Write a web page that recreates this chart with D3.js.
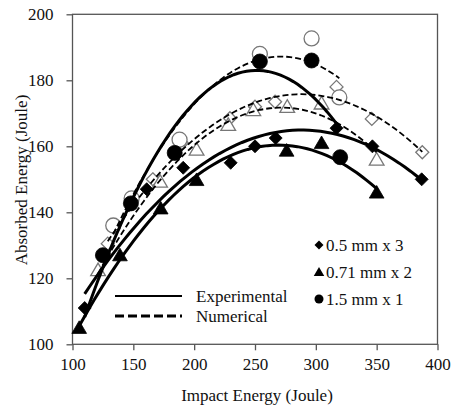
<!DOCTYPE html>
<html>
<head>
<meta charset="utf-8">
<script src="https://cdn.jsdelivr.net/npm/d3@7"></script>
<style>
  body { margin: 0; background: #fff; }
  svg text { font-family: "Liberation Serif", Tinos, "Times New Roman", "DejaVu Serif", serif; }
</style>
</head>
<body>
<svg id="chart"></svg>
<script>
// values (impact energy, absorbed energy)
let d05ExpX = [110, 161, 191, 230, 250, 267, 317, 346.5, 387];
let d05ExpY = [111, 147, 153.5, 155, 160, 162.5, 165.5, 160, 150];
let d071ExpX = [105.5, 139, 172.5, 202, 276, 304.7, 350];
let d071ExpY = [105, 127, 141.2, 149.8, 158.7, 161, 146];
let d15ExpX = [125, 148, 184, 254, 296.5, 320];
let d15ExpY = [127, 142.7, 158, 185.7, 186, 156.7];

let d05NumX = [129, 166, 190, 229.4, 250, 266.5, 317, 346, 387.5];
let d05NumY = [130.5, 150, 161, 168.5, 172, 173.5, 178, 168.3, 158.2];
let d071NumX = [121, 172, 202, 228, 248.6, 276.5, 304.7, 350];
let d071NumY = [122.5, 149.3, 159, 166.5, 171, 172, 173, 156];
let d15NumX = [133.5, 148.6, 188, 254, 296.5, 319.3];
let d15NumY = [136, 144.2, 162, 188, 192.7, 174.8];

// trendline ranges (1.5 mm experimental line is drawn back to 110)
let trendFrom = { d05Exp: 110, d071Exp: 105.5, d15Exp: 110, d05Num: 129, d071Num: 121, d15Num: 133.5 };

let xTicks = [100, 150, 200, 250, 300, 350, 400];
let yTicks = [100, 120, 140, 160, 180, 200];
let seriesNames = ["0.5 mm x 3", "0.71 mm x 2", "1.5 mm x 1"];
let lineNames = ["Experimental", "Numerical"];

let width = 463;
let height = 409;
let serif = '"Liberation Serif", Tinos, "Times New Roman", "DejaVu Serif", serif';
let zip = (xs, ys) => xs.map((x, i) => ({ x: x, y: ys[i] }));

let series = [
  { key: "d05Num", shape: "diamond", open: true, pts: zip(d05NumX, d05NumY) },
  { key: "d071Num", shape: "triangle", open: true, pts: zip(d071NumX, d071NumY) },
  { key: "d15Num", shape: "circle", open: true, pts: zip(d15NumX, d15NumY) },
  { key: "d05Exp", shape: "diamond", open: false, pts: zip(d05ExpX, d05ExpY) },
  { key: "d071Exp", shape: "triangle", open: false, pts: zip(d071ExpX, d071ExpY) },
  { key: "d15Exp", shape: "circle", open: false, pts: zip(d15ExpX, d15ExpY) }
];

let svg = d3.select('#chart').attr('width', width).attr('height', height);

let xScale = d3.scaleLinear().domain([100, 400]).range([72.5, 437.5]);
let yScale = d3.scaleLinear().domain([100, 200]).range([344.3, 14.3]);

// plot frame
svg.append('rect')
  .attr('x', xScale(100)).attr('y', yScale(200))
  .attr('width', xScale(400) - xScale(100))
  .attr('height', yScale(100) - yScale(200))
  .attr('fill', 'none')
  .attr('stroke', '#555')
  .attr('stroke-width', 1.3);

let xAxis = d3.axisBottom(xScale).tickValues(xTicks).tickSize(6).tickPadding(7.5);
let yAxis = d3.axisLeft(yScale).tickValues(yTicks).tickSize(6).tickPadding(13);

let gx = svg.append('g').attr('transform', 'translate(0,' + yScale(100) + ')').call(xAxis);
let gy = svg.append('g').attr('transform', 'translate(' + xScale(100) + ',0)').call(yAxis);
[gx, gy].forEach(g => {
  g.attr('font-family', serif).attr('font-size', 17);
  g.select('.domain').remove();
  g.selectAll('line').attr('stroke', '#555').attr('stroke-width', 1.3);
  g.selectAll('text').style('font-family', serif).attr('fill', '#111');
});

svg.append('text')
  .attr('x', 257).attr('y', 401)
  .attr('text-anchor', 'middle')
  .attr('font-size', 17).attr('fill', '#111')
  .text('Impact Energy (Joule)');
svg.append('text')
  .attr('transform', 'translate(27,180) rotate(-90)')
  .attr('text-anchor', 'middle')
  .attr('font-size', 17).attr('fill', '#111')
  .text('Absorbed Energy (Joule)');

// marker shapes
function markerPath(shape, s) {
  if (shape == 'diamond') {
    return 'M0,' + (-s) + 'L' + s + ',0L0,' + s + 'L' + (-s) + ',0Z';
  }
  if (shape == 'triangle') {
    return 'M0,' + (-s) + 'L' + (s * 1.05) + ',' + (s * 0.8) + 'L' + (-s * 1.05) + ',' + (s * 0.8) + 'Z';
  }
  let p = d3.path();
  p.arc(0, 0, s, 0, Math.PI * 2);
  p.closePath();
  return p.toString();
}
let markerSize = { diamond: 6.5, triangle: 7, circle: 7.5 };

// quadratic least-squares trendline, as the spreadsheet did
function quadFit(pts) {
  let s = [0, 0, 0, 0, 0], t = [0, 0, 0];
  pts.forEach(p => {
    for (let k = 0; k < 5; k++) s[k] += Math.pow(p.x, k);
    for (let k = 0; k < 3; k++) t[k] += p.y * Math.pow(p.x, k);
  });
  let m = [[s[0], s[1], s[2]], [s[1], s[2], s[3]], [s[2], s[3], s[4]]];
  let det = a => a[0][0] * (a[1][1] * a[2][2] - a[1][2] * a[2][1])
    - a[0][1] * (a[1][0] * a[2][2] - a[1][2] * a[2][0])
    + a[0][2] * (a[1][0] * a[2][1] - a[1][1] * a[2][0]);
  let D = det(m);
  let c = [0, 1, 2].map(j => det(m.map((row, i) => row.map((v, k) => k == j ? t[i] : v))) / D);
  return x => c[0] + c[1] * x + c[2] * x * x;
}

// markers: open series first, filled on top
series.forEach(sr => {
  svg.append('g').selectAll('path')
    .data(sr.pts)
    .enter()
    .append('path')
    .attr('transform', d => 'translate(' + xScale(d.x) + ',' + yScale(d.y) + ')')
    .attr('d', markerPath(sr.shape, markerSize[sr.shape]))
    .attr('fill', sr.open ? '#fff' : '#000')
    .attr('stroke', sr.open ? '#777' : '#000')
    .attr('stroke-width', sr.open ? 1.3 : 0.8);
});

// trendlines over the markers
let line = d3.line()
  .x(d => xScale(d.x))
  .y(d => yScale(d.y));
series.forEach(sr => {
  let f = quadFit(sr.pts);
  let x0 = trendFrom[sr.key];
  let x1 = d3.max(sr.pts, d => d.x);
  let curvePts = d3.range(0, 61).map(i => {
    let x = x0 + (x1 - x0) * i / 60;
    return { x: x, y: f(x) };
  });
  svg.append('path')
    .datum(curvePts)
    .attr('d', line)
    .attr('fill', 'none')
    .attr('stroke', '#000')
    .attr('stroke-width', sr.open ? 1.8 : 3)
    .attr('stroke-dasharray', sr.open ? '6,3' : null);
});

// line legend
let lineLegend = svg.append('g');
lineNames.forEach((name, i) => {
  let y = 296 + i * 20;
  lineLegend.append('line')
    .attr('x1', 115).attr('x2', 182)
    .attr('y1', y).attr('y2', y)
    .attr('stroke', '#000')
    .attr('stroke-width', i == 0 ? 2 : 3)
    .attr('stroke-dasharray', i == 0 ? null : '9,4');
  lineLegend.append('text')
    .attr('x', 196).attr('y', y + 6)
    .attr('font-size', 17).attr('fill', '#111')
    .text(name);
});

// marker legend
let shapes = ['diamond', 'triangle', 'circle'];
let legend = svg.append('g');
seriesNames.forEach((name, i) => {
  let y = 245 + i * 27;
  legend.append('path')
    .attr('transform', 'translate(319,' + y + ')')
    .attr('d', markerPath(shapes[i], shapes[i] == 'triangle' ? 5 : 4.5))
    .attr('fill', '#000');
  legend.append('text')
    .attr('x', 326).attr('y', y + 6)
    .attr('font-size', 17).attr('fill', '#111')
    .text(name);
});
</script>
</body>
</html>
